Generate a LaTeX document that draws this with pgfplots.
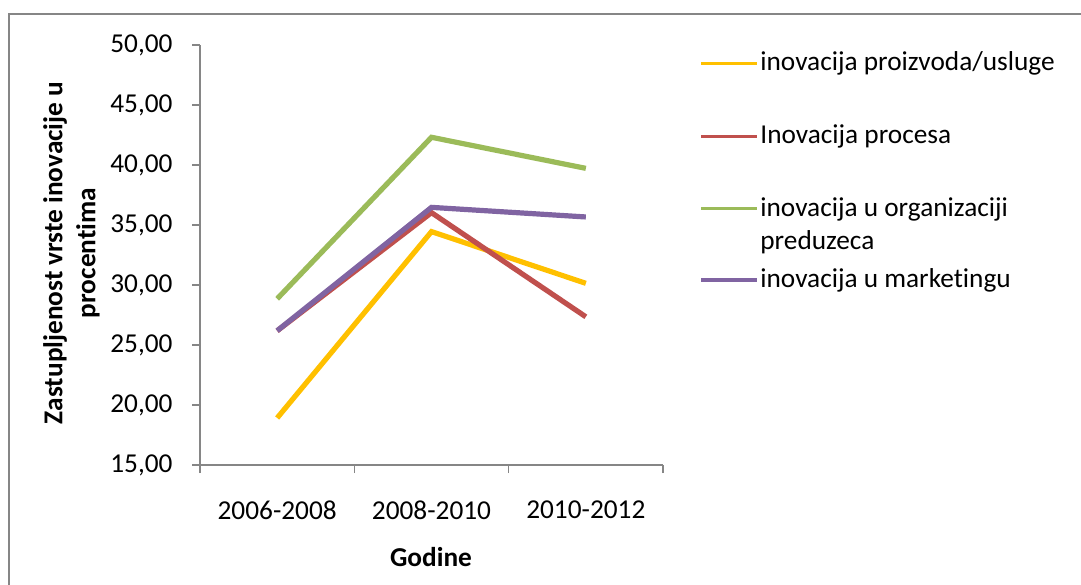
\documentclass[border=0pt]{standalone}
\usepackage{pgfplots}
\pgfplotsset{compat=1.18}
\usepackage{fontspec}
\setmainfont{Carlito}[Ligatures=NoCommon]
\definecolor{cYel}{HTML}{FFC000}
\definecolor{cRed}{HTML}{C0504D}
\definecolor{cGrn}{HTML}{9BBB59}
\definecolor{cPur}{HTML}{8064A2}
\definecolor{cAx}{HTML}{868686}
\begin{document}
\fontsize{13.65}{16.5}\selectfont
\begin{tikzpicture}
\useasboundingbox (0,0) rectangle (540.5pt,292pt);
\draw[cAx, line width=1.2pt] (4.5pt,-2pt) -- (4.5pt,285pt) -- (543pt,285pt);
\begin{axis}[
  at={(100pt,59.5pt)}, anchor=south west,
  scale only axis, width=231.5pt, height=210pt,
  xmin=-0.5, xmax=2.5, ymin=15, ymax=50,
  axis x line*=bottom, axis y line*=left,
  axis line style={cAx, line width=0.6pt},
  ytick={15,20,...,50},
  xtick={0,1,2},
  xticklabels={2006-2008,2008-2010,2010-2012},
  minor xtick={-0.5,0.5,1.5,2.5},
  tick align=outside,
  tick style={cAx, line width=0.6pt},
  major tick length=4pt,
  x tick style={draw=none},
  minor x tick style={draw=cAx, line width=0.6pt},
  minor tick length=4pt,
  /pgf/number format/assume math mode=true,
  /pgf/number format/.cd, fixed, fixed zerofill, precision=2, use comma, 1000 sep={},
  /pgfplots/.cd,
  yticklabel style={font=\fontsize{13.65}{16.5}\selectfont, xshift=-5pt},
  xticklabel style={font=\fontsize{13.65}{16.5}\selectfont, yshift=-9pt},
  clip=false,
]
\addplot[cYel, line width=2.6pt] coordinates {(0,18.92) (1,34.45) (2,30.14)};
\addplot[cRed, line width=2.6pt] coordinates {(0,26.18) (1,36.03) (2,27.35)};
\addplot[cGrn, line width=2.6pt] coordinates {(0,28.85) (1,42.31) (2,39.72)};
\addplot[cPur, line width=2.6pt] coordinates {(0,26.19) (1,36.47) (2,35.67)};
\end{axis}
\node[rotate=90, align=center, font=\bfseries\fontsize{13.65}{16.5}\selectfont] at (35.75pt,165.5pt) {Zastupljenost vrste inovacije u\\procentima};
\node[font=\bfseries\fontsize{13.65}{16.5}\selectfont] at (215.5pt,13.5pt) {Godine};
% legend
\foreach \c/\y in {cYel/63.3, cRed/136.7, cGrn/208.3, cPur/280} {
  \draw[\c, line width=1.6pt] (350.5pt,{(584-\y)*0.5pt}) -- (378.5pt,{(584-\y)*0.5pt});
}
\node[anchor=west, inner sep=0pt] at (380pt,{(584-63.3)*0.5pt}) {inovacija proizvoda/usluge};
\node[anchor=west, inner sep=0pt] at (380pt,{(584-136.7)*0.5pt}) {Inovacija procesa};
\node[anchor=north west, inner sep=0pt, align=left] at (380pt,{(584-208.3)*0.5pt+5.5pt}) {inovacija u organizaciji\\preduzeca};
\node[anchor=west, inner sep=0pt] at (380pt,{(584-280)*0.5pt}) {inovacija u marketingu};
\end{tikzpicture}
\end{document}
